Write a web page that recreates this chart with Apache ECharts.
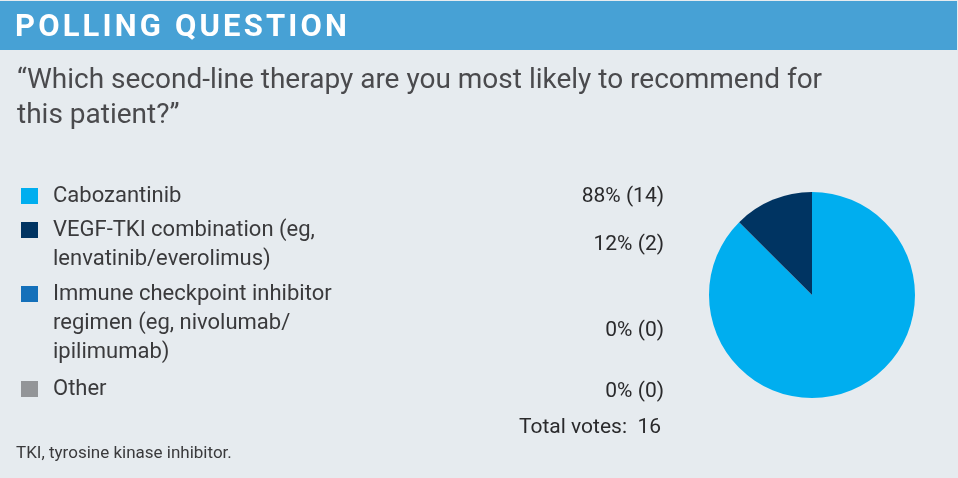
<!DOCTYPE html>
<html><head><meta charset="utf-8">
<script src="https://cdn.jsdelivr.net/npm/echarts@6/dist/echarts.min.js"></script>
<style>html,body{margin:0;padding:0;background:#fff}#c{width:958px;height:478px}</style>
</head><body><div id="c"></div>
<script>
const headerText = 'POLLING QUESTION';
const questionLines = ['\u201cWhich second-line therapy are you most likely to recommend for', 'this patient?\u201d'];
const categories = ['Cabozantinib', 'VEGF-TKI combination (eg,\nlenvatinib/everolimus)', 'Immune checkpoint inhibitor\nregimen (eg, nivolumab/\nipilimumab)', 'Other'];
const votes = [14, 2, 0, 0];
const percents = [88, 12, 0, 0];
const totalVotes = 16;
const colors = ['#00AEEF', '#003462', '#1470BA', '#939598'];
const footnote = 'TKI, tyrosine kinase inhibitor.';

const FONT = 'Roboto, "Liberation Sans", sans-serif';
const legendCenters = [196, 230, 294, 389];
const valueCenters = [197, 245, 331, 392];
const LH = 29;

const legends = categories.map((name, i) => {
  const lines = name.split('\n');
  const n = lines.length;
  const blockH = (2 * n - 1) * LH;
  const spacer = n > 1 ? '{sp| }\n' : '';
  return {
    data: [name], orient: 'vertical', left: 21, top: legendCenters[i] - blockH / 2,
    padding: 0, icon: 'rect', itemWidth: 17, itemHeight: 16, itemGap: 0,
    selectedMode: false,
    formatter: () => spacer + lines.map(l => '{a|' + l + '}').join('\n'),
    textStyle: {
      fontFamily: FONT, fontSize: 22, color: '#3a3a3c', padding: [0, 0, 0, 10],
      rich: {
        a: { fontFamily: FONT, fontSize: 22, color: '#3a3a3c', lineHeight: LH, height: LH },
        sp: { fontSize: 10, lineHeight: (n - 1) * LH, height: (n - 1) * LH }
      }
    }
  };
});

const graphics = [
  { type: 'rect', shape: { x: 0, y: 0, width: 958, height: 478 }, style: { fill: '#E6EBEF' }, z: -10 },
  { type: 'rect', shape: { x: 0, y: 1, width: 957, height: 49 }, style: { fill: '#47A1D5' }, z: -5 },
  { type: 'text', x: 15, y: 28, style: { text: headerText.split('').join('\u200A'), fill: '#fff', font: 'bold 31px ' + FONT, verticalAlign: 'middle' } },
  { type: 'text', x: 17, y: 81, style: { text: questionLines[0], fill: '#4a4a4d', font: '28px ' + FONT, verticalAlign: 'middle' } },
  { type: 'text', x: 17, y: 116, style: { text: questionLines[1], fill: '#4a4a4d', font: '28px ' + FONT, verticalAlign: 'middle' } },
  { type: 'text', x: 16, y: 454, style: { text: footnote, fill: '#3a3a3c', font: '17px ' + FONT, verticalAlign: 'middle' } },
  { type: 'text', x: 519, y: 428, style: { text: 'Total votes:  ' + totalVotes, fill: '#2a2a2c', font: '21px ' + FONT, verticalAlign: 'middle' } }
];
percents.forEach((p, i) => {
  graphics.push({ type: 'text', x: 664, y: valueCenters[i], style: { text: p + '% (' + votes[i] + ')', fill: '#2a2a2c', font: '21px ' + FONT, align: 'right', verticalAlign: 'middle' } });
});

const chart = echarts.init(document.getElementById('c'), null, { renderer: 'canvas' });
chart.setOption({
  animation: false,
  backgroundColor: '#E6EBEF',
  color: colors,
  legend: legends,
  graphic: graphics,
  series: [{
    type: 'pie', center: [812, 295], radius: 103, startAngle: 90, clockwise: true,
    label: { show: false }, labelLine: { show: false }, silent: true,
    itemStyle: { borderWidth: 0 },
    emphasis: { disabled: true },
    data: categories.map((n, i) => ({ name: n, value: votes[i], itemStyle: { color: colors[i] } }))
  }]
});
</script></body></html>
